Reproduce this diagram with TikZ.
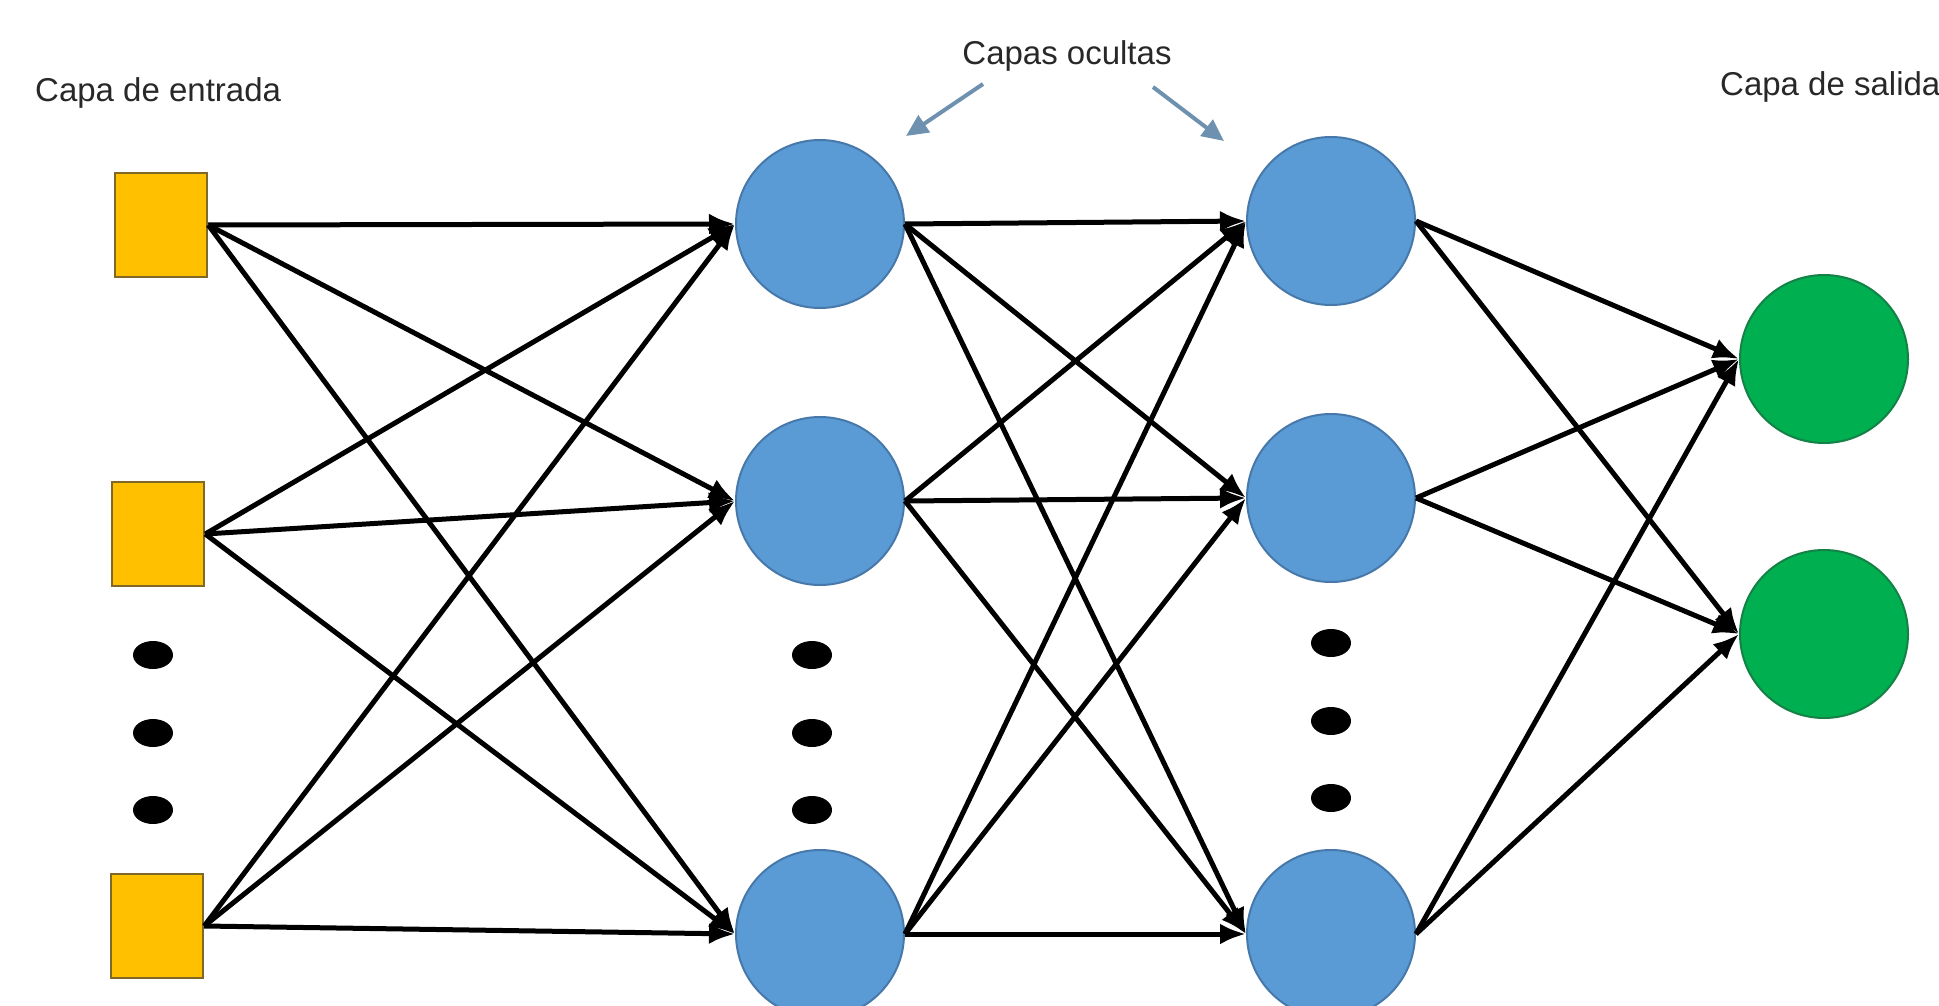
\documentclass[tikz,border=0pt]{standalone}
\usepackage{fontspec}
\setmainfont{Liberation Sans}
\usetikzlibrary{arrows.meta,shapes.geometric}
\definecolor{inyellow}{RGB}{255,192,0}
\definecolor{inborder}{RGB}{127,104,40}
\definecolor{hidblue}{RGB}{91,155,213}
\definecolor{hidborder}{RGB}{70,120,170}
\definecolor{outgreen}{RGB}{0,176,80}
\definecolor{outborder}{RGB}{20,130,70}
\definecolor{notecol}{RGB}{110,145,175}
\definecolor{labelcol}{RGB}{40,40,40}
\tikzset{
  inputbox/.style={rectangle, fill=inyellow, draw=inborder, line width=2.5pt,
    minimum width=92pt, minimum height=104pt, inner sep=0pt},
  hiddenunit/.style={circle, fill=hidblue, draw=hidborder, line width=2pt,
    minimum size=168pt, inner sep=0pt},
  outputunit/.style={circle, fill=outgreen, draw=outborder, line width=2pt,
    minimum size=168pt, inner sep=0pt},
  ellipsisdot/.style={ellipse, fill=black, minimum width=40pt, minimum height=28pt, inner sep=0pt},
  layerlabel/.style={text=labelcol, font=\fontsize{33}{40}\selectfont, inner sep=0pt},
  link/.style={line width=5pt, -{Latex[length=26pt,width=21pt]}},
  pointer/.style={notecol, line width=4pt, -{Triangle[length=22pt,width=20pt]}}
}
\begin{document}
\begin{tikzpicture}[x=1pt, y=-1pt]
  \useasboundingbox (0,0) rectangle (1939,1006);
  \fill[white] (0,0) rectangle (1939,1006);

  % layer labels
  \node[layerlabel, anchor=west] (lin) at (35,93) {Capa de entrada};
  \node[layerlabel] (lhid) at (1067,56) {Capas ocultas};
  \node[layerlabel, anchor=west] (lout) at (1720,87) {Capa de salida};

  % input layer
  \node[inputbox] (i1) at (161,225) {};
  \node[inputbox] (i2) at (158,534) {};
  \node[inputbox] (i3) at (157,926) {};
  \node[ellipsisdot] (id1) at (153,655) {};
  \node[ellipsisdot] (id2) at (153,733) {};
  \node[ellipsisdot] (id3) at (153,810) {};

  % first hidden layer
  \node[hiddenunit] (a1) at (820,224) {};
  \node[hiddenunit] (a2) at (820,501) {};
  \node[hiddenunit] (a3) at (820,934) {};
  \node[ellipsisdot] (ad1) at (812,655) {};
  \node[ellipsisdot] (ad2) at (812,733) {};
  \node[ellipsisdot] (ad3) at (812,810) {};

  % second hidden layer
  \node[hiddenunit] (b1) at (1331,221) {};
  \node[hiddenunit] (b2) at (1331,498) {};
  \node[hiddenunit] (b3) at (1331,934) {};
  \node[ellipsisdot] (bd1) at (1331,643) {};
  \node[ellipsisdot] (bd2) at (1331,721) {};
  \node[ellipsisdot] (bd3) at (1331,798) {};

  % output layer
  \node[outputunit] (o1) at (1824,359) {};
  \node[outputunit] (o2) at (1824,634) {};

  % fully connected links
  \foreach \s in {i1,i2,i3}
    \foreach \t in {a1,a2,a3}
      \draw[link] (\s.east) -- (\t.west);
  \foreach \s in {a1,a2,a3}
    \foreach \t in {b1,b2,b3}
      \draw[link] (\s.east) -- (\t.west);
  \foreach \s in {b1,b2,b3}
    \foreach \t in {o1,o2}
      \draw[link] (\s.east) -- (\t.west);

  % pointers from the hidden-layer label
  \coordinate (sl) at (983,84);
  \coordinate (sr) at (1153,87);
  \coordinate (pl) at (906,136);
  \coordinate (pr) at (1224,141);
  \draw[pointer] (sl) -- (pl);
  \draw[pointer] (sr) -- (pr);
\end{tikzpicture}
\end{document}
